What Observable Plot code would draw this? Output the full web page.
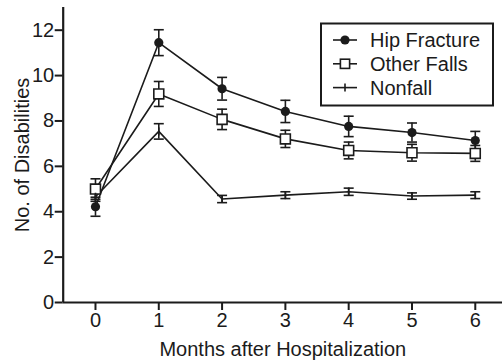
<!DOCTYPE html>
<html>
<head>
<meta charset="utf-8">
<script src="https://cdn.jsdelivr.net/npm/d3@7"></script>
<script src="https://cdn.jsdelivr.net/npm/@observablehq/plot@0.6"></script>
<style>
  html, body { margin: 0; padding: 0; background: #fff; }
  #chart { position: relative; width: 503px; height: 362px; }
</style>
</head>
<body>
<div id="chart"></div>
<script>
const months = [0, 1, 2, 3, 4, 5, 6];
const seriesNames = ["Hip Fracture", "Other Falls", "Nonfall"];
const hipMean   = [4.22, 11.45, 9.42, 8.42, 7.76, 7.49, 7.14];
const hipErr    = [0.42, 0.57, 0.50, 0.49, 0.45, 0.42, 0.40];
const otherMean = [5.00, 9.19, 8.07, 7.21, 6.70, 6.60, 6.57];
const otherErr  = [0.45, 0.55, 0.45, 0.38, 0.37, 0.37, 0.35];
const nonMean   = [4.66, 7.54, 4.56, 4.73, 4.88, 4.69, 4.73];
const nonErr    = [0.20, 0.34, 0.16, 0.15, 0.16, 0.14, 0.15];
const yTicks = [0, 2, 4, 6, 8, 10, 12];

const means = [hipMean, otherMean, nonMean];
const errs = [hipErr, otherErr, nonErr];
const data = [];
seriesNames.forEach((s, i) => {
  months.forEach((m, j) => {
    data.push({series: s, month: m, value: means[i][j], err: errs[i][j]});
  });
});

const ink = "#1b1b1b";
const font = "'Liberation Sans', Arial, Helvetica, sans-serif";
const cap = { draw(ctx, size) { const r = Math.sqrt(size / Math.PI); ctx.moveTo(-r, 0); ctx.lineTo(r, 0); } };
const vbar = { draw(ctx, size) { const r = Math.sqrt(size / Math.PI); ctx.moveTo(0, -r); ctx.lineTo(0, r); } };

const xMin = -0.51, xMax = 6.43;

const plot = Plot.plot({
  width: 503,
  height: 362,
  marginLeft: 62.7,
  marginRight: 1,
  marginTop: 7,
  marginBottom: 60,
  style: { fontFamily: font, fontSize: "20px", color: ink, background: "#fff" },
  x: { domain: [xMin, xMax] },
  y: { domain: [0, 13] },
  marks: [
    Plot.axisX({ ticks: months, tickSize: 8, tickPadding: 2, tickFormat: d => String(d), label: "Months after Hospitalization", labelAnchor: "center", labelArrow: "none", labelOffset: 53, strokeWidth: 2, fontSize: 20 }),
    Plot.axisY({ ticks: yTicks, tickSize: 8, tickPadding: 1, tickFormat: d => String(d), label: "No. of Disabilities", labelAnchor: "center", labelArrow: "none", labelOffset: 48, strokeWidth: 2, fontSize: 20 }),
    Plot.ruleY([0], { stroke: ink, strokeWidth: 2 }),
    Plot.ruleX([xMin], { stroke: ink, strokeWidth: 2.2 }),
    Plot.line(data, { x: "month", y: "value", z: "series", stroke: ink, strokeWidth: 1.6 }),
    Plot.ruleX(data, { x: "month", y1: d => d.value - d.err, y2: d => d.value + d.err, stroke: ink, strokeWidth: 1.6 }),
    Plot.dot(data, { x: "month", y: d => d.value + d.err, symbol: cap, r: 5, stroke: ink, strokeWidth: 1.6, fill: "none" }),
    Plot.dot(data, { x: "month", y: d => d.value - d.err, symbol: cap, r: 5, stroke: ink, strokeWidth: 1.6, fill: "none" }),
    Plot.dot(data.filter(d => d.series === seriesNames[1]), { x: "month", y: "value", symbol: "square", r: 5.6, stroke: ink, strokeWidth: 1.6, fill: "white" }),
    Plot.dot(data.filter(d => d.series === seriesNames[0]), { x: "month", y: "value", symbol: "circle", r: 4.6, fill: ink, stroke: "none" }),
    Plot.dot(data.filter(d => d.series === seriesNames[2]), { x: "month", y: "value", symbol: vbar, r: 4, stroke: ink, strokeWidth: 1.6 })
  ]
});

document.getElementById("chart").appendChild(plot);

// Legend drawn inside the plot's SVG
const svg = d3.select(plot.tagName.toLowerCase() === "svg" ? plot : plot.querySelector("svg"));
const lg = svg.append("g").attr("class", "legend").attr("text-anchor", "start");
lg.append("rect").attr("x", 321).attr("y", 23.5).attr("width", 172).attr("height", 82)
  .attr("fill", "white").attr("stroke", ink).attr("stroke-width", 2);
const rowY = [40, 63.8, 87.6];
seriesNames.forEach((name, i) => {
  const y = rowY[i];
  lg.append("line").attr("x1", 333).attr("x2", 357).attr("y1", y).attr("y2", y).attr("stroke", ink).attr("stroke-width", 1.6);
  if (i === 0) {
    lg.append("circle").attr("cx", 345).attr("cy", y).attr("r", 4.6).attr("fill", ink);
  } else if (i === 1) {
    lg.append("rect").attr("x", 340.4).attr("y", y - 4.6).attr("width", 9.2).attr("height", 9.2).attr("fill", "white").attr("stroke", ink).attr("stroke-width", 1.6);
  } else {
    lg.append("line").attr("x1", 345).attr("x2", 345).attr("y1", y - 4).attr("y2", y + 4).attr("stroke", ink).attr("stroke-width", 1.6);
  }
  lg.append("text").attr("x", 370).attr("y", y).attr("dy", "0.35em")
    .attr("text-anchor", "start")
    .attr("font-size", 20).attr("fill", ink)
    .attr("font-family", font)
    .text(name);
});
</script>
</body>
</html>
